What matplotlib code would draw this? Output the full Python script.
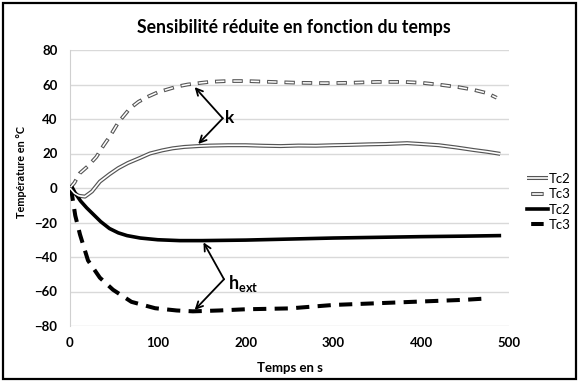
import matplotlib
matplotlib.use("Agg")
import matplotlib.pyplot as plt
from matplotlib.patches import Rectangle
from matplotlib.lines import Line2D
from matplotlib.legend_handler import HandlerTuple

plt.rcParams['font.family'] = ['Lato', 'DejaVu Sans']
plt.rcParams['lines.scale_dashes'] = False
plt.rcParams['mathtext.fontset'] = 'custom'
plt.rcParams['mathtext.bf'] = 'Lato:bold'
plt.rcParams['mathtext.rm'] = 'Lato:bold'

# ---- data ----
t_tc2_k = [0, 5, 10, 17, 25, 34, 45, 55, 66, 80, 91, 105, 117, 130, 146, 160, 180, 200,
           220, 240, 260, 280, 300, 320, 340, 360, 384, 400, 420, 440, 460, 475, 490]
v_tc2_k = [0, -3, -4.5, -5, -2, 3.7, 8, 11.5, 14.5, 17.5, 20, 21.8, 23, 23.8, 24.3, 24.6,
           24.8, 24.8, 24.5, 24.3, 24.6, 24.5, 24.8, 25, 25.3, 25.5, 26, 25.5, 24.8, 23.5,
           22, 21, 19.8]

t_tc3_k = [0, 5, 11, 20, 30, 38, 45.5, 55, 68, 78, 89, 100, 110, 122, 134, 150, 161, 180,
           200, 230, 260, 290, 320, 350, 380, 400, 419, 442, 459, 475, 486]
v_tc3_k = [0, 3, 8.5, 12.5, 18, 24.5, 30, 38, 46, 50, 53, 55.5, 57, 58.8, 60, 61, 61.6, 62,
           62, 61.5, 61, 60.8, 61, 61.5, 61.5, 61, 60, 58.5, 57, 55, 52.3]

t_tc2_h = [0, 2, 6, 12, 19, 26, 35, 45, 55, 65, 80, 100, 125, 150, 200, 250, 300, 350, 400,
           450, 489]
v_tc2_h = [-1, 0.8, -3, -7.5, -11.5, -15, -19.5, -23.5, -26, -27.6, -29, -30, -30.5, -30.5,
           -30.2, -29.6, -29, -28.6, -28.2, -27.9, -27.6]

t_tc3_h = [0, 2, 6, 11.4, 20.5, 34, 49, 70, 97, 121.5, 140, 170, 200, 250, 300, 350, 400, 450, 476]
v_tc3_h = [0, -3, -16, -27, -42, -52, -59, -66, -69.7, -71, -71.5, -71, -70.3, -69.8, -67.8,
           -66.8, -65.8, -64.8, -64]

x_ticks = [0, 100, 200, 300, 400, 500]
y_ticks = [-80, -60, -40, -20, 0, 20, 40, 60, 80]

title = "Sensibilité réduite en fonction du temps"
xlabel = "Temps en s"
ylabel = "Température en °C"
labels = ["Tc2", "Tc3", "Tc2", "Tc3"]

# ---- figure ----
W, H = 579, 382
fig = plt.figure(figsize=(W / 100, H / 100), dpi=100)
ax = fig.add_axes([70 / W, 1 - 326 / H, (509 - 70) / W, (326 - 50) / H])

ax.set_xlim(0, 500)
ax.set_ylim(-80, 80)
ax.set_xticks(x_ticks)
ax.set_yticks(y_ticks)
ax.tick_params(length=0, labelsize=9.5)
ax.tick_params(axis='y', pad=9)
ax.tick_params(axis='x', pad=8)
for lab in ax.get_xticklabels() + ax.get_yticklabels():
    lab.set_fontweight('bold')
ax.grid(axis='y', color='#d9d9d9', lw=1)
ax.set_axisbelow(True)
for s in ['top', 'right', 'bottom']:
    ax.spines[s].set_visible(False)
ax.spines['left'].set_color('#d0d0d0')

outer_c = '#555555'
on_g, off_g = 7.5, 5.0
d = 0.7
dash_outer = (0, (on_g, off_g))
dash_inner = (on_g + off_g - d, (on_g - 2 * d, off_g + 2 * d))
on_b, off_b = 9.5, 6.0

# Tc2 k: double line
ax.plot(t_tc2_k, v_tc2_k, color=outer_c, lw=2.9, solid_capstyle='butt', zorder=3)
ax.plot(t_tc2_k, v_tc2_k, color='white', lw=1.2, solid_capstyle='butt', zorder=3.1)
# Tc3 k: dashed double line
ax.plot(t_tc3_k, v_tc3_k, color=outer_c, lw=2.7, ls=dash_outer, dash_capstyle='butt', zorder=3)
ax.plot(t_tc3_k, v_tc3_k, color='white', lw=1.1, ls=dash_inner, dash_capstyle='butt', zorder=3.1)
# Tc2 h_ext: black solid
ax.plot(t_tc2_h, v_tc2_h, color='black', lw=2.6, zorder=3)
# Tc3 h_ext: black dashed
ax.plot(t_tc3_h, v_tc3_h, color='black', lw=2.9, ls=(0, (on_b, off_b)), dash_capstyle='butt', zorder=3)

# annotations
arrow = dict(arrowstyle='->', color='black', lw=1.3, shrinkA=0, shrinkB=0, mutation_scale=12)
ax.annotate('', xy=(142, 58.5), xytext=(174, 40.4), arrowprops=arrow)
ax.annotate('', xy=(146, 25.5), xytext=(174, 40.4), arrowprops=arrow)
ax.text(177, 40.4, 'k', fontsize=12.5, fontweight='bold', va='center', ha='left')
ax.annotate('', xy=(152, -31.5), xytext=(175.4, -52.9), arrowprops=arrow)
ax.annotate('', xy=(142, -70.7), xytext=(175.4, -52.9), arrowprops=arrow)
ax.text(180, -55.5, r'$\mathbf{h}_{\mathbf{ext}}$', fontsize=13, va='center', ha='left')

ax.set_title(title, fontsize=12.7, fontweight='bold', pad=12, x=0.51)
ax.set_xlabel(xlabel, fontsize=9.5, fontweight='bold', labelpad=9)
ax.set_ylabel(ylabel, fontsize=7.8, fontweight='bold')
ax.yaxis.set_label_coords((27 - 70) / 439, (326 - 172.5) / 276)

# legend proxies (centered short dash for dashed entries)
hl = 15.0
gl_on = 9.0
g_off = 30.0
gofs = gl_on + g_off - (hl - gl_on) / 2
p1o = Line2D([], [], color=outer_c, lw=2.9, solid_capstyle='butt')
p1i = Line2D([], [], color='white', lw=1.2, solid_capstyle='butt')
p2o = Line2D([], [], color=outer_c, lw=2.9, ls=(gofs, (gl_on, g_off)), dash_capstyle='butt')
p2i = Line2D([], [], color='white', lw=1.2, ls=(gofs - d, (gl_on - 2 * d, g_off + 2 * d)), dash_capstyle='butt')
p3 = Line2D([], [], color='black', lw=2.6)
p4 = Line2D([], [], color='black', lw=2.9, ls=(gofs, (gl_on, g_off)), dash_capstyle='butt')
fig.legend([(p1o, p1i), (p2o, p2i), p3, p4], labels,
           handler_map={tuple: HandlerTuple(ndivide=1)},
           loc='upper left', bbox_to_anchor=(527 / W, 1 - 173 / H),
           frameon=False, fontsize=9.5, handlelength=hl / 9.5, handletextpad=0.1,
           labelspacing=0.25, borderpad=0, borderaxespad=0)

# outer frame
fig.patches.append(Rectangle((3 / W, 3 / H), (W - 6) / W, (H - 6) / H, transform=fig.transFigure,
                             fill=False, edgecolor='black', lw=1.6))

fig.savefig('out.png', dpi=100)
